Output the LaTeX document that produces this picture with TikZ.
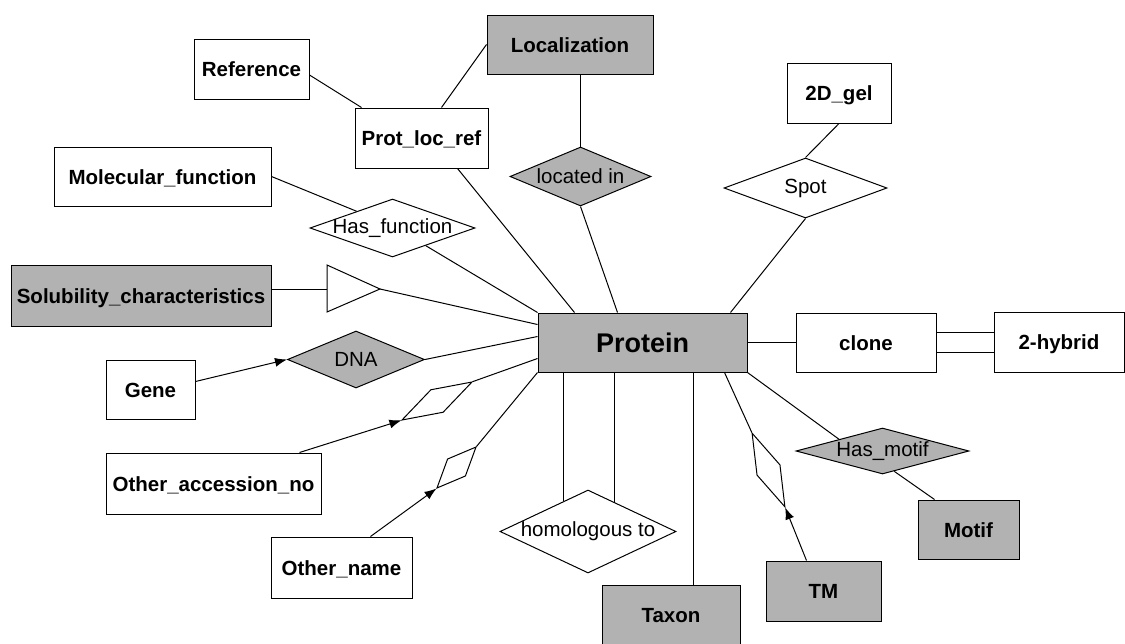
\documentclass[tikz,border=0pt]{standalone}
\usepackage{fontspec}
\setmainfont{Liberation Sans}
\usetikzlibrary{shapes.geometric,arrows.meta}

\begin{document}
\begin{tikzpicture}[x=1pt,y=-1pt,line width=1pt,
entity/.style={draw,rectangle,inner sep=0pt,text height=15pt,text depth=0pt,font=\fontsize{20.5}{24}\selectfont\bfseries},
weak/.style={entity,fill=black!30},
reltext/.style={inner sep=0pt,font=\fontsize{20.5}{24}\selectfont},
rel/.style={draw,diamond,inner sep=0pt,label={[reltext]center:#1}},
link/.style={draw,diamond,inner sep=0pt,fill=white},
arr/.style={-{Latex[length=12pt,width=9pt]}}]
\useasboundingbox (0,0) rectangle (1125,643);

% entities
\node [weak,minimum width=209,minimum height=59,text height=19pt,font=\fontsize{27}{32}\selectfont\bfseries] (protein) at (642.5,342.5) {Protein};
\node [weak,minimum width=166,minimum height=59] (loc) at (570,44.5) {Localization};
\node [entity,minimum width=115,minimum height=60] (ref) at (251.5,69) {Reference};
\node [entity,minimum width=133,minimum height=60] (plr) at (421.5,138) {Prot\_loc\_ref};
\node [entity,minimum width=217,minimum height=59] (molfn) at (162.5,176.5) {Molecular\_function};
\node [weak,minimum width=260,minimum height=61] (sol) at (141,295.5) {Solubility\_characteristics};
\node [entity,minimum width=89,minimum height=59] (gene) at (150.5,389.5) {Gene};
\node [entity,minimum width=215,minimum height=61] (othacc) at (213.5,483.5) {Other\_accession\_no};
\node [entity,minimum width=141,minimum height=61] (othname) at (341.5,567.5) {Other\_name};
\node [entity,minimum width=104,minimum height=60] (gel) at (839,93) {2D\_gel};
\node [entity,minimum width=140,minimum height=59] (clone) at (866,342.5) {clone};
\node [entity,minimum width=130,minimum height=60] (hybrid) at (1059,342) {2-hybrid};
\node [weak,minimum width=138,minimum height=60] (taxon) at (671,615) {Taxon};
\node [weak,minimum width=115,minimum height=60] (tm) at (823.5,591) {TM};
\node [weak,minimum width=101,minimum height=59] (motif) at (968.5,529.5) {Motif};

% relationships
\node [rel=Has\_function,minimum width=165,minimum height=58] (hasfn) at (392.5,228) {};
\node [rel=located in,fill=black!30,minimum width=141,minimum height=59] (locin) at (580.5,176.5) {};
\node [rel=Spot,minimum width=163,minimum height=60] (spot) at (805.5,188) {};
\node [rel=DNA,fill=black!30,minimum width=137,minimum height=57] (dna) at (356,359.5) {};
\node [rel=homologous to,minimum width=176,minimum height=83] (homol) at (588,531.5) {};
\node [rel=Has\_motif,fill=black!30,minimum width=173,minimum height=46] (hasmotif) at (882.5,451) {};
\node [link,minimum width=80,minimum height=26,rotate=28.5] (accdia) at (437,401) {};
\node [link,minimum width=57,minimum height=25,rotate=46.4] (namedia) at (456.5,467.5) {};
\node [link,minimum width=81,minimum height=25.5,rotate=-66] (tmdia) at (768.5,470) {};

% isa triangle
\coordinate (tritop) at (327,265);
\coordinate (tribot) at (327,312);
\coordinate (triL) at (327,289);
\coordinate (triapex) at (380,289);
\draw (tritop) -- (triapex) -- (tribot) -- cycle;

% connectors
\draw ([yshift=-6pt]ref.east) -- ([xshift=7pt]plr.north west);
\draw (loc.west) -- ([xshift=20pt]plr.north);
\draw ([xshift=36pt]plr.south) -- ([xshift=37pt]protein.north west);
\draw (molfn.east) -- (hasfn.155);
\draw (hasfn.-28) -- (protein.north west);
\draw (locin.north) -- (locin.north |- loc.south);
\draw (locin.south) -- ([xshift=80pt]protein.north west);
\draw (gel.south) -- (spot.north);
\draw (spot.south) -- ([xshift=-17pt]protein.north east);
\draw (sol.east |- triL) -- (triL);
\draw (triapex) -- ([yshift=18pt]protein.west);
\draw [arr] ([yshift=8pt]gene.east) -- (dna.west);
\draw (dna.east) -- ([yshift=6pt]protein.west);
\draw [arr] ([xshift=-22pt]othacc.north east) -- (accdia.west);
\draw (accdia.east) -- ([yshift=-16pt]protein.west);
\draw [arr] ([xshift=29pt]othname.north) -- (namedia.west);
\draw (namedia.east) -- (protein.south west);
\draw (homol.129) -- (homol.129 |- protein.south);
\draw (homol.48) -- (homol.48 |- protein.south);
\coordinate (taxtop) at ([xshift=22pt]taxon.north);
\draw (taxtop) -- (taxtop |- protein.south);
\draw ([xshift=-23pt]protein.south east) -- (tmdia.west);
\draw [arr] ([xshift=-17pt]tm.north) -- (tmdia.east);
\draw (protein.south east) -- (hasmotif.north west);
\draw (hasmotif.-60) -- ([xshift=17pt]motif.north west);
\draw (protein.east) -- (clone.west);
\draw ([yshift=10pt]clone.east) -- ([yshift=10pt]clone.east -| hybrid.west);
\draw ([yshift=-10pt]clone.east) -- ([yshift=-10pt]clone.east -| hybrid.west);
\end{tikzpicture}
\end{document}
